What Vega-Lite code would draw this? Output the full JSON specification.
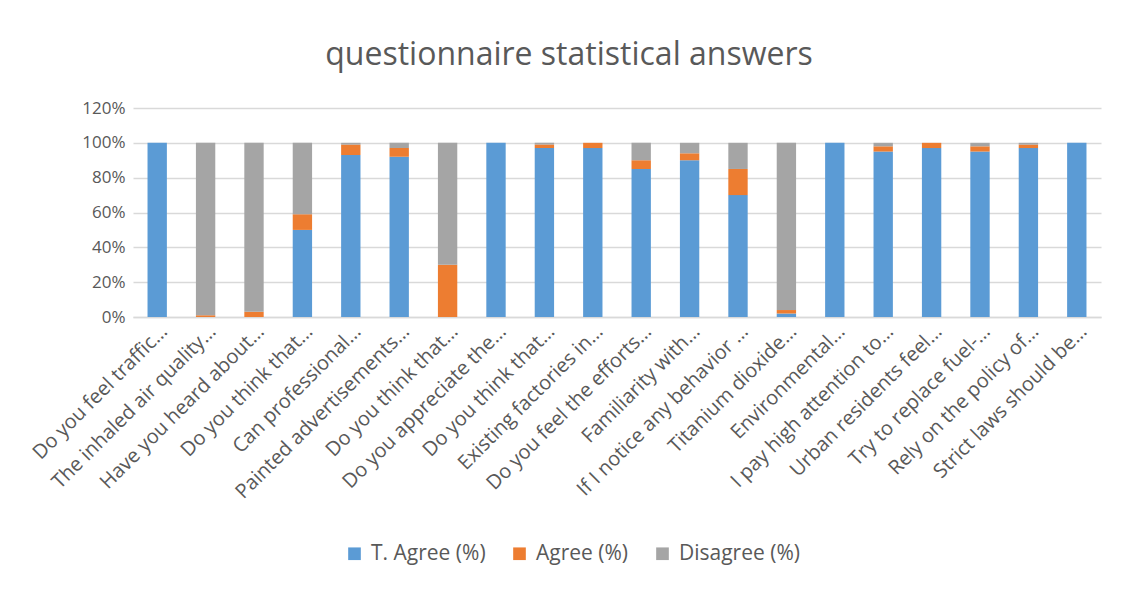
{
  "$schema": "https://vega.github.io/schema/vega-lite/v6.json",
  "autosize": "none",
  "width": 968,
  "height": 209,
  "padding": {"left": 133, "top": 108, "right": 22, "bottom": 275},
  "background": "white",
  "title": {"text": "questionnaire statistical answers", "fontSize": 32, "font": "Open Sans", "fontWeight": "normal", "color": "#595959", "anchor": "middle", "dx": -48, "offset": 27},
  "data": {"values": [
    {"q": "Do you feel traffic…", "cat": "T. Agree (%)", "k": 1, "v": 1.0},
    {"q": "Do you feel traffic…", "cat": "Agree (%)", "k": 2, "v": 0},
    {"q": "Do you feel traffic…", "cat": "Disagree (%)", "k": 3, "v": 0},
    {"q": "The inhaled air quality…", "cat": "T. Agree (%)", "k": 1, "v": 0},
    {"q": "The inhaled air quality…", "cat": "Agree (%)", "k": 2, "v": 0.01},
    {"q": "The inhaled air quality…", "cat": "Disagree (%)", "k": 3, "v": 0.99},
    {"q": "Have you heard about…", "cat": "T. Agree (%)", "k": 1, "v": 0},
    {"q": "Have you heard about…", "cat": "Agree (%)", "k": 2, "v": 0.03},
    {"q": "Have you heard about…", "cat": "Disagree (%)", "k": 3, "v": 0.97},
    {"q": "Do you think that…", "cat": "T. Agree (%)", "k": 1, "v": 0.5},
    {"q": "Do you think that…", "cat": "Agree (%)", "k": 2, "v": 0.09},
    {"q": "Do you think that…", "cat": "Disagree (%)", "k": 3, "v": 0.41},
    {"q": "Can professional…", "cat": "T. Agree (%)", "k": 1, "v": 0.93},
    {"q": "Can professional…", "cat": "Agree (%)", "k": 2, "v": 0.06},
    {"q": "Can professional…", "cat": "Disagree (%)", "k": 3, "v": 0.01},
    {"q": "Painted advertisements…", "cat": "T. Agree (%)", "k": 1, "v": 0.92},
    {"q": "Painted advertisements…", "cat": "Agree (%)", "k": 2, "v": 0.05},
    {"q": "Painted advertisements…", "cat": "Disagree (%)", "k": 3, "v": 0.03},
    {"q": "\u200bDo you think that…", "cat": "T. Agree (%)", "k": 1, "v": 0},
    {"q": "\u200bDo you think that…", "cat": "Agree (%)", "k": 2, "v": 0.3},
    {"q": "\u200bDo you think that…", "cat": "Disagree (%)", "k": 3, "v": 0.7},
    {"q": "Do you appreciate the…", "cat": "T. Agree (%)", "k": 1, "v": 1.0},
    {"q": "Do you appreciate the…", "cat": "Agree (%)", "k": 2, "v": 0},
    {"q": "Do you appreciate the…", "cat": "Disagree (%)", "k": 3, "v": 0},
    {"q": "\u200b\u200bDo you think that…", "cat": "T. Agree (%)", "k": 1, "v": 0.97},
    {"q": "\u200b\u200bDo you think that…", "cat": "Agree (%)", "k": 2, "v": 0.02},
    {"q": "\u200b\u200bDo you think that…", "cat": "Disagree (%)", "k": 3, "v": 0.01},
    {"q": "Existing factories in…", "cat": "T. Agree (%)", "k": 1, "v": 0.97},
    {"q": "Existing factories in…", "cat": "Agree (%)", "k": 2, "v": 0.03},
    {"q": "Existing factories in…", "cat": "Disagree (%)", "k": 3, "v": 0},
    {"q": "Do you feel the efforts…", "cat": "T. Agree (%)", "k": 1, "v": 0.85},
    {"q": "Do you feel the efforts…", "cat": "Agree (%)", "k": 2, "v": 0.05},
    {"q": "Do you feel the efforts…", "cat": "Disagree (%)", "k": 3, "v": 0.1},
    {"q": "Familiarity with…", "cat": "T. Agree (%)", "k": 1, "v": 0.9},
    {"q": "Familiarity with…", "cat": "Agree (%)", "k": 2, "v": 0.04},
    {"q": "Familiarity with…", "cat": "Disagree (%)", "k": 3, "v": 0.06},
    {"q": "If I notice any behavior …", "cat": "T. Agree (%)", "k": 1, "v": 0.7},
    {"q": "If I notice any behavior …", "cat": "Agree (%)", "k": 2, "v": 0.15},
    {"q": "If I notice any behavior …", "cat": "Disagree (%)", "k": 3, "v": 0.15},
    {"q": "Titanium dioxide…", "cat": "T. Agree (%)", "k": 1, "v": 0.02},
    {"q": "Titanium dioxide…", "cat": "Agree (%)", "k": 2, "v": 0.02},
    {"q": "Titanium dioxide…", "cat": "Disagree (%)", "k": 3, "v": 0.96},
    {"q": "Environmental…", "cat": "T. Agree (%)", "k": 1, "v": 1.0},
    {"q": "Environmental…", "cat": "Agree (%)", "k": 2, "v": 0},
    {"q": "Environmental…", "cat": "Disagree (%)", "k": 3, "v": 0},
    {"q": "I pay high attention to…", "cat": "T. Agree (%)", "k": 1, "v": 0.95},
    {"q": "I pay high attention to…", "cat": "Agree (%)", "k": 2, "v": 0.03},
    {"q": "I pay high attention to…", "cat": "Disagree (%)", "k": 3, "v": 0.02},
    {"q": "Urban residents feel…", "cat": "T. Agree (%)", "k": 1, "v": 0.97},
    {"q": "Urban residents feel…", "cat": "Agree (%)", "k": 2, "v": 0.03},
    {"q": "Urban residents feel…", "cat": "Disagree (%)", "k": 3, "v": 0},
    {"q": "Try to replace fuel-…", "cat": "T. Agree (%)", "k": 1, "v": 0.95},
    {"q": "Try to replace fuel-…", "cat": "Agree (%)", "k": 2, "v": 0.03},
    {"q": "Try to replace fuel-…", "cat": "Disagree (%)", "k": 3, "v": 0.02},
    {"q": "Rely on the policy of…", "cat": "T. Agree (%)", "k": 1, "v": 0.97},
    {"q": "Rely on the policy of…", "cat": "Agree (%)", "k": 2, "v": 0.02},
    {"q": "Rely on the policy of…", "cat": "Disagree (%)", "k": 3, "v": 0.01},
    {"q": "Strict laws should be…", "cat": "T. Agree (%)", "k": 1, "v": 1.0},
    {"q": "Strict laws should be…", "cat": "Agree (%)", "k": 2, "v": 0},
    {"q": "Strict laws should be…", "cat": "Disagree (%)", "k": 3, "v": 0}
  ]},
  "mark": {"type": "bar"},
  "encoding": {
    "x": {
      "field": "q", "type": "nominal", "sort": null,
      "scale": {"paddingInner": 0.6, "paddingOuter": 0.3},
      "axis": {"title": null, "labelAngle": -45, "labelFontSize": 20, "labelFont": "Open Sans", "labelColor": "#595959", "ticks": false, "domainColor": "#D9D9D9", "domainWidth": 1.5, "labelPadding": 4, "labelLimit": 400}
    },
    "y": {
      "field": "v", "type": "quantitative", "stack": "zero",
      "scale": {"domain": [0, 1.2], "nice": false},
      "axis": {"title": null, "values": [0, 0.2, 0.4, 0.6, 0.8, 1.0, 1.2], "format": ".0%", "labelFontSize": 17, "labelFont": "Open Sans", "labelColor": "#595959", "ticks": false, "domain": false, "gridColor": "#D9D9D9", "gridWidth": 1.5, "labelPadding": 8}
    },
    "order": {"field": "k", "type": "quantitative", "sort": "ascending"},
    "color": {
      "field": "cat", "type": "nominal",
      "scale": {"domain": ["T. Agree (%)", "Agree (%)", "Disagree (%)"], "range": ["#5B9BD5", "#ED7D31", "#A5A5A5"]},
      "legend": {"title": null, "orient": "none", "direction": "horizontal", "legendX": 211, "legendY": 435, "symbolType": "square", "symbolSize": 160, "symbolStrokeWidth": 0, "labelFontSize": 21, "labelFont": "Open Sans", "labelColor": "#595959", "columnPadding": 23, "labelOffset": 6}
    }
  },
  "config": {"view": {"stroke": null}}
}
